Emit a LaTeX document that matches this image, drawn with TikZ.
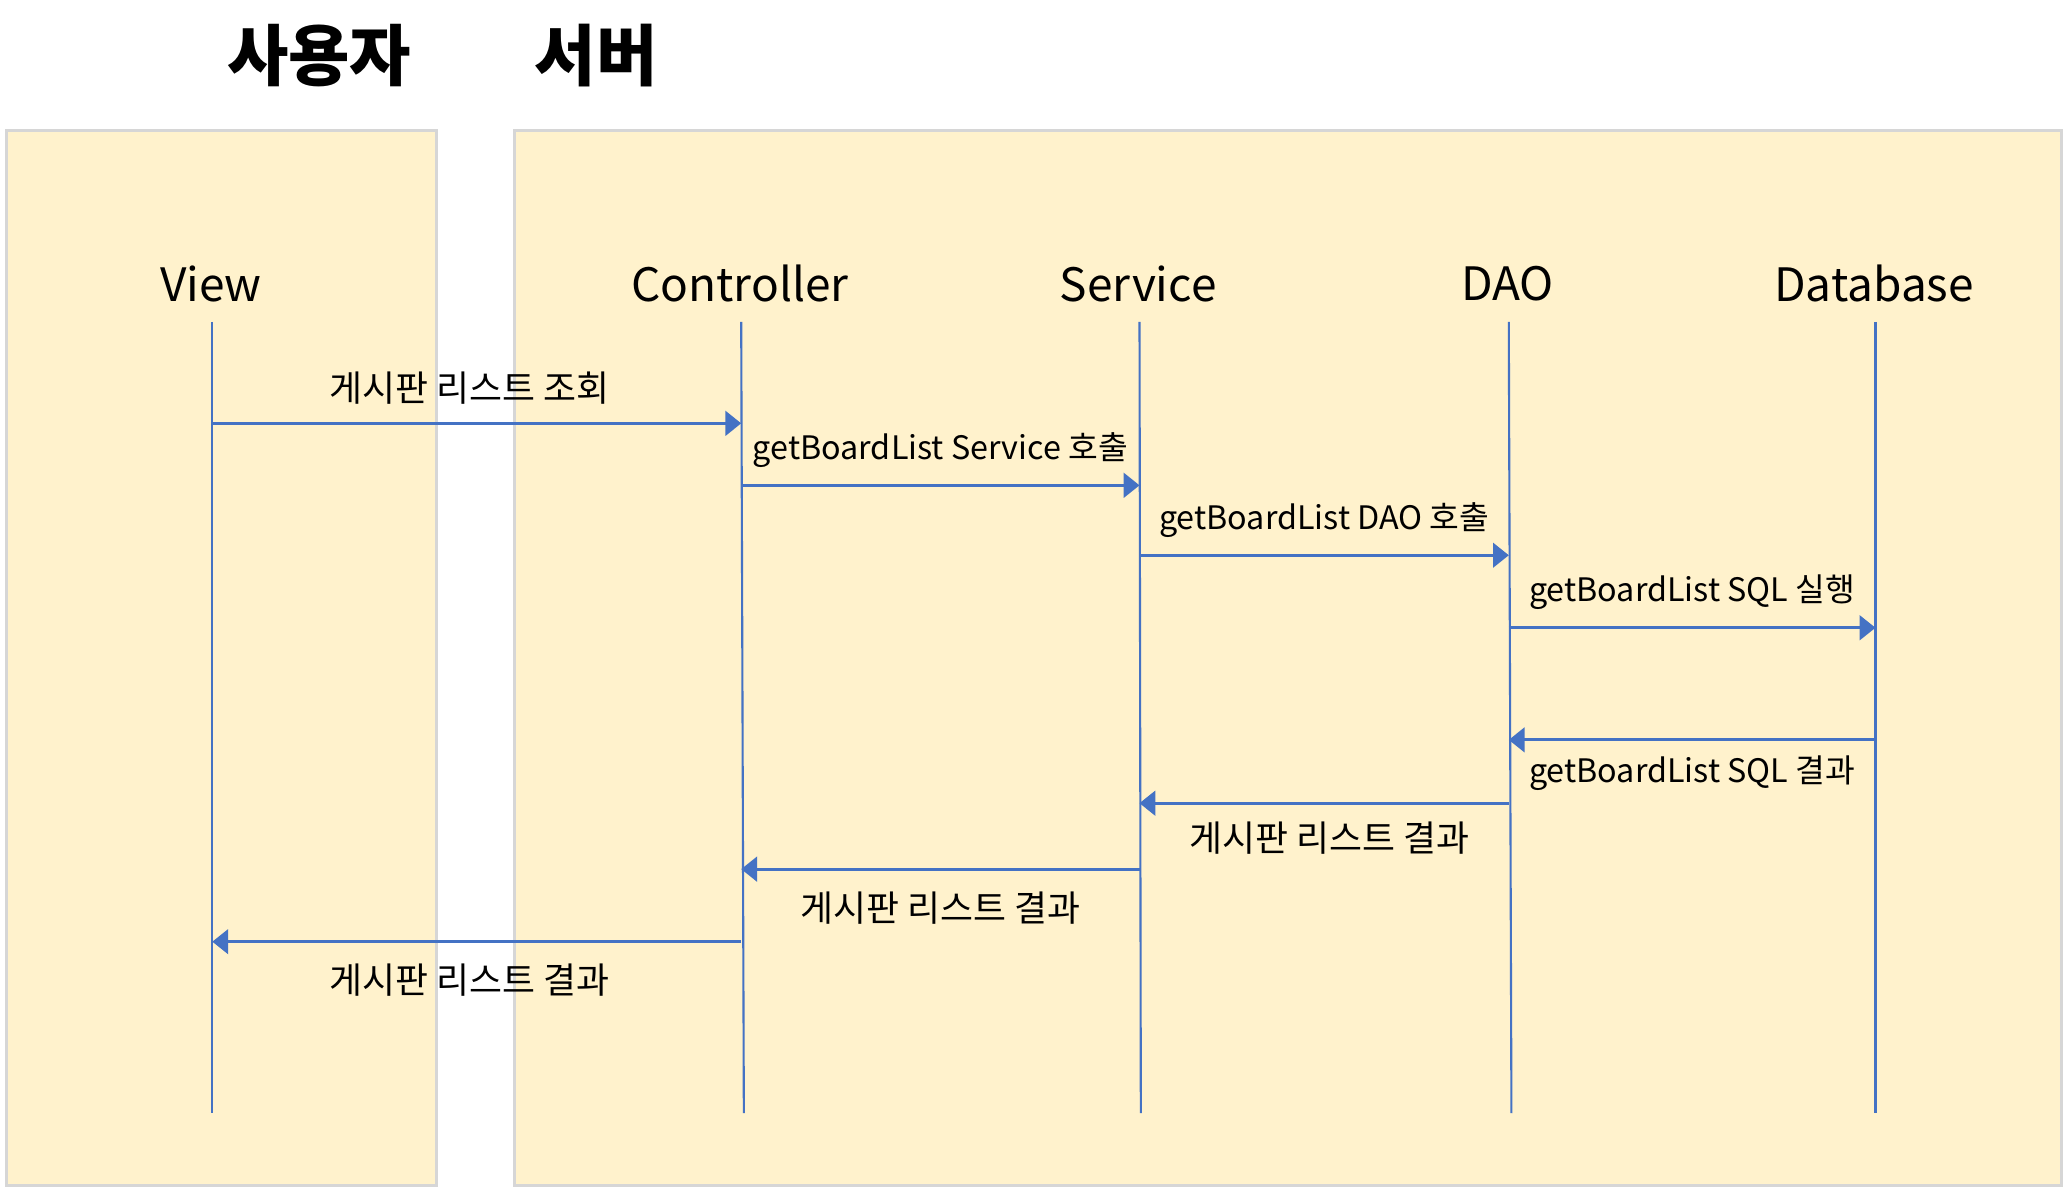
\documentclass[tikz,border=0pt]{standalone}
\usepackage{fontspec}
\setmainfont{Noto Sans CJK KR}
\usetikzlibrary{arrows.meta}
\definecolor{boxfill}{HTML}{FFF2CC}
\definecolor{boxline}{HTML}{D6D6D6}
\definecolor{lineblue}{HTML}{4472C4}
\begin{document}
\begin{tikzpicture}[x=0.0132cm,y=-0.0132cm,
  lane/.style={draw=boxline,fill=boxfill,line width=0.8pt},
  title/.style={font=\fontsize{19}{22}\selectfont\bfseries},
  actor/.style={font=\fontsize{13.1}{15}\selectfont},
  life/.style={draw=lineblue,line width=0.6pt},
  msg/.style={draw=lineblue,line width=0.8pt,-{Triangle[length=4.5pt,width=7pt]}},
  lbl/.style={font=\fontsize{10.2}{12}\selectfont,anchor=center},
  codelbl/.style={lbl,font=\fontsize{9.2}{11}\selectfont}]
\useasboundingbox (0,0) rectangle (1568,904);
\draw[lane] (5,99) rectangle (331,899);
\draw[lane] (390,99) rectangle (1563,899);
\node[title] (user) at (242,42) {사용자};
\node[title] (server) at (452,42) {서버};
\foreach \name/\txt/\xt/\xb in {view/View/161/161, ctrl/Controller/562/564,
    svc/Service/864/865, dao/DAO/1144/1146, db/Database/1422/1422}
{
    \node[actor] (\name) at (\xt-1,215) {\txt};
    \coordinate (\name-top) at (\xt,244);
    \coordinate (\name-bot) at (\xb,844);
    \draw[life] (\name-top) -- (\name-bot);
}
\foreach \i/\y in {1/321, 2/368, 3/421, 4/476, 5/561, 6/609, 7/659, 8/714}
    \coordinate (m\i) at (0,\y);
% calls
\draw[msg] (view-top |- m1) -- node[lbl,xshift=-2pt,yshift=10pt] {게시판 리스트 조회} (ctrl-top |- m1);
\draw[msg] (ctrl-top |- m2) -- node[codelbl,yshift=10pt] {getBoardList Service 호출} (svc-top |- m2);
\draw[msg] (svc-top |- m3) -- node[codelbl,yshift=10pt] {getBoardList DAO 호출} (dao-top |- m3);
\draw[msg] (dao-top |- m4) -- node[codelbl,yshift=10pt] {getBoardList SQL 실행} (db-top |- m4);
% results
\draw[msg] (db-top |- m5) -- node[codelbl,yshift=-9.5pt] {getBoardList SQL 결과} (dao-top |- m5);
\draw[msg] (dao-top |- m6) -- node[lbl,xshift=1.5pt,yshift=-10pt] {게시판 리스트 결과} (svc-top |- m6);
\draw[msg] (svc-top |- m7) -- node[lbl,yshift=-11pt] {게시판 리스트 결과} (ctrl-top |- m7);
\draw[msg] (ctrl-top |- m8) -- node[lbl,xshift=-2pt,yshift=-11pt] {게시판 리스트 결과} (view-top |- m8);
\end{tikzpicture}
\end{document}
